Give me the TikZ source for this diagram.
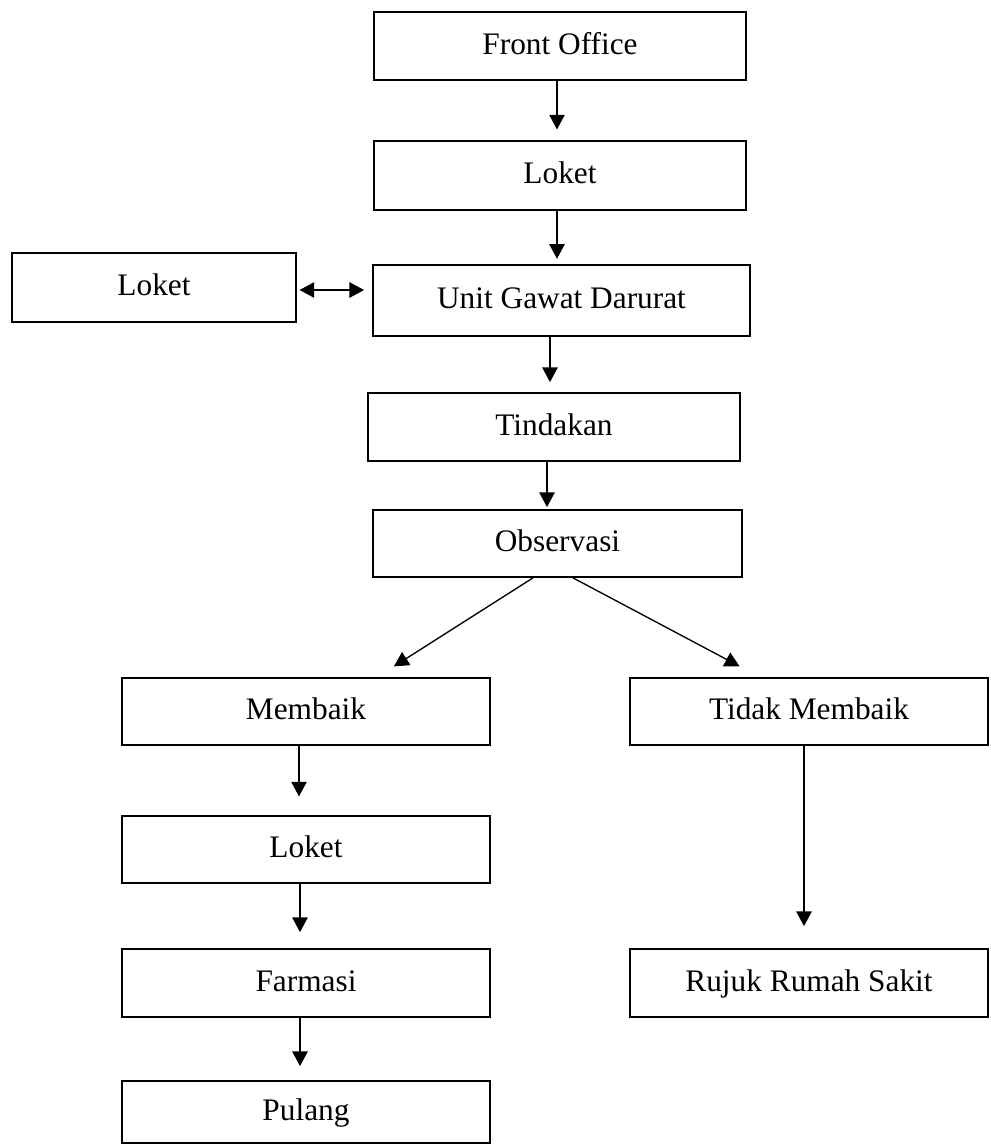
\documentclass[tikz,border=0pt]{standalone}
\usepackage{fontspec}
\setmainfont{Liberation Serif}
\usetikzlibrary{arrows.meta}
\begin{document}
\begin{tikzpicture}[x=0.75pt,y=-0.75pt,
  box/.style={draw, line width=1.3pt, inner sep=0pt, text height=16.5pt, text depth=4.5pt,
    font=\fontsize{23.5}{28}\selectfont},
  flow/.style={draw, line width=1pt, -{Triangle[length=11pt,width=11.5pt]}},
  both/.style={draw, line width=1pt, {Triangle[length=11pt,width=11.5pt]}-{Triangle[length=11pt,width=11.5pt]}}]
\useasboundingbox (0,0) rectangle (991,1146);
% \flowbox{name}{left}{top}{right}{bottom}{text}, corners in pixel units
\newcommand\flowbox[6]{\node[box, minimum width=(#4-#2)*0.75pt, minimum height=(#5-#3)*0.75pt] (#1) at ({(#2+#4)/2},{(#3+#5)/2}) {#6};}
\flowbox{front}{374}{12}{746}{80}{Front Office}
\flowbox{loket}{374}{141}{746}{210}{Loket}
\flowbox{loketl}{12}{253}{296}{322}{Loket}
\flowbox{ugd}{373}{265}{750}{336}{Unit Gawat Darurat}
\flowbox{tind}{368}{393}{740}{461}{Tindakan}
\flowbox{obs}{373}{510}{742}{577}{Observasi}
\flowbox{baik}{122}{678}{490}{745}{Membaik}
\flowbox{tidak}{630}{678}{988}{745}{Tidak Membaik}
\flowbox{loketb}{122}{816}{490}{883}{Loket}
\flowbox{farm}{122}{949}{490}{1017}{Farmasi}
\flowbox{pulang}{122}{1081}{490}{1143}{Pulang}
\flowbox{rujuk}{630}{949}{988}{1017}{Rujuk Rumah Sakit}
% main column
\path[flow, shorten >=8pt] (front.south -| 557,0) -- (loket.north -| 557,0);
\path[flow, shorten >=4pt] (loket.south -| 557,0) -- (ugd.north -| 557,0);
\path[both, shorten <=2pt, shorten >=6pt] (loketl.east |- 0,290) -- (ugd.west |- 0,290);
\path[flow, shorten >=7.5pt] (ugd.south -| 550,0) -- (tind.north -| 550,0);
\path[flow, shorten >=1.5pt] (tind.south -| 547,0) -- (obs.north -| 547,0);
% branches after observation
\path[flow, shorten >=15pt] (obs.south -| 533,0) -- (baik.north -| 377,0);
\path[flow, shorten >=17.4pt] (obs.south -| 573,0) -- (tidak.north -| 760,0);
\path[flow, shorten >=14pt] (baik.south -| 299,0) -- (loketb.north -| 299,0);
\path[flow, shorten >=12pt] (loketb.south -| 300,0) -- (farm.north -| 300,0);
\path[flow, shorten >=10.5pt] (farm.south -| 300,0) -- (pulang.north -| 300,0);
\path[flow, shorten >=16.5pt] (tidak.south -| 804,0) -- (rujuk.north -| 804,0);
\end{tikzpicture}
\end{document}
